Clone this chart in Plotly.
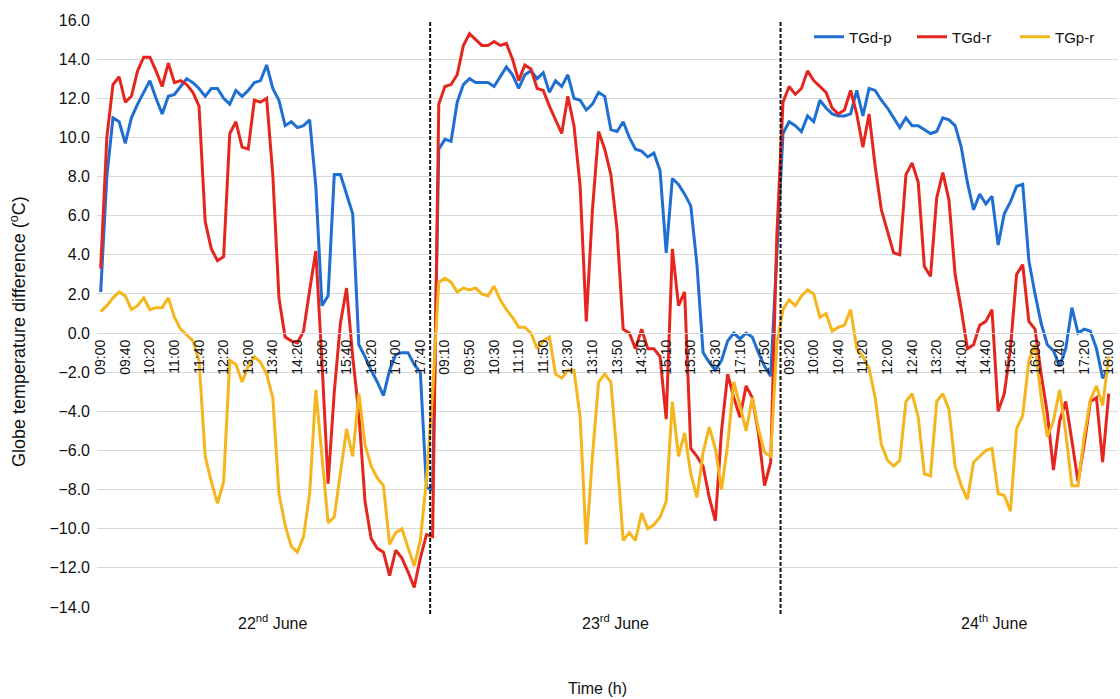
import plotly.graph_objects as go

# Measurement days and 10-minute sampling times (09:00 - 18:00)
DAYS = ["22<sup>nd</sup> June", "23<sup>rd</sup> June", "24<sup>th</sup> June"]
TIMES = [f"{9 + m // 60:02d}:{m % 60:02d}" for m in range(0, 541, 10)]
CATEGORIES = [(d, t) for d in DAYS for t in TIMES]

# Globe temperature differences (°C), one value per sample, day after day
TGD_P = [
    # 22nd June
    2.1, 8.0, 11.0, 10.8, 9.7, 11.0, 11.7, 12.3, 12.9, 12.0,
    11.2, 12.1, 12.2, 12.6, 13.0, 12.8, 12.5, 12.1, 12.5, 12.5,
    12.0, 11.7, 12.4, 12.1, 12.4, 12.8, 12.9, 13.7, 12.5, 11.9,
    10.6, 10.8, 10.5, 10.6, 10.9, 7.5, 1.4, 1.9, 8.1, 8.1,
    7.1, 6.1, -0.6, -1.2, -1.9, -2.5, -3.2, -1.9, -1.1, -1.0,
    -1.0, -1.6, -2.0, -7.9, -8.0,
    # 23rd June
    9.4, 9.9, 9.8, 11.8, 12.7, 13.0, 12.8, 12.8, 12.8, 12.6,
    13.1, 13.6, 13.2, 12.5, 13.2, 13.4, 13.0, 13.3, 12.3, 12.9,
    12.6, 13.2, 12.0, 11.9, 11.4, 11.7, 12.3, 12.1, 10.4, 10.3,
    10.8, 10.0, 9.4, 9.3, 9.0, 9.2, 8.3, 4.1, 7.9, 7.6,
    7.1, 6.5, 3.5, -1.0, -1.5, -1.9, -1.4, -0.4, 0.0, -0.3,
    0.0, -0.2, -1.0, -1.7, -2.2,
    # 24th June
    4.0, 10.2, 10.8, 10.6, 10.3, 11.1, 10.8, 11.9, 11.5, 11.2,
    11.1, 11.1, 11.2, 12.4, 11.1, 12.5, 12.4, 11.9, 11.5, 11.0,
    10.5, 11.0, 10.6, 10.6, 10.4, 10.2, 10.3, 11.0, 10.9, 10.6,
    9.5, 7.7, 6.3, 7.1, 6.6, 7.0, 4.5, 6.1, 6.7, 7.5,
    7.6, 3.7, 2.0, 0.5, -0.6, -0.9, -1.7, -0.8, 1.3, 0.0,
    0.2, 0.1, -0.8, -2.3, -1.9,
]

TGD_R = [
    # 22nd June
    3.3, 10.0, 12.7, 13.1, 11.8, 12.1, 13.4, 14.1, 14.1, 13.4,
    12.6, 13.8, 12.8, 12.9, 12.7, 12.3, 11.6, 5.7, 4.3, 3.7,
    3.9, 10.2, 10.8, 9.5, 9.4, 11.9, 11.8, 12.0, 8.1, 1.8,
    -0.2, -0.4, -0.5, 0.1, 2.2, 4.2, -1.5, -7.7, -3.0, 0.5,
    2.3, -1.2, -4.1, -8.6, -10.5, -11.0, -11.2, -12.4, -11.1, -11.5,
    -12.2, -13.0, -11.5, -10.3, -10.4,
    # 23rd June
    11.7, 12.6, 12.7, 13.2, 14.7, 15.3, 15.0, 14.7, 14.7, 14.9,
    14.7, 14.8, 14.0, 12.9, 13.7, 13.5, 12.5, 12.4, 11.6, 10.9,
    10.2, 12.1, 10.6, 7.5, 0.6, 6.3, 10.3, 9.4, 8.1, 5.3,
    0.2, 0.0, -0.8, 0.2, -0.8, -0.8, -1.2, -4.4, 4.3, 1.4,
    2.1, -5.9, -6.3, -6.8, -8.4, -9.6, -5.0, -2.1, -3.3, -4.3,
    -2.7, -3.3, -5.1, -7.8, -6.6,
    # 24th June
    5.0, 11.8, 12.6, 12.2, 12.5, 13.4, 12.9, 12.6, 12.3, 11.5,
    11.2, 11.4, 12.4, 11.2, 9.5, 11.2, 8.5, 6.3, 5.2, 4.1,
    4.0, 8.1, 8.7, 7.7, 3.4, 2.9, 6.9, 8.2, 6.8, 3.0,
    1.2, -0.8, -0.6, 0.4, 0.6, 1.2, -4.0, -3.1, -0.8, 3.0,
    3.5, 0.6, 0.2, -2.1, -4.1, -7.0, -4.5, -3.5, -5.5, -7.6,
    -5.7, -3.5, -3.3, -6.6, -3.1,
]

TGP_R = [
    # 22nd June
    1.1, 1.4, 1.8, 2.1, 1.9, 1.2, 1.4, 1.8, 1.2, 1.3,
    1.3, 1.8, 0.8, 0.2, -0.1, -0.4, -1.4, -6.3, -7.6, -8.7,
    -7.6, -1.4, -1.6, -2.5, -1.7, -1.2, -1.5, -2.1, -3.3, -8.2,
    -9.8, -10.9, -11.2, -10.4, -8.2, -2.9, -6.3, -9.7, -9.4, -7.2,
    -4.9, -6.3, -3.1, -5.7, -6.8, -7.4, -7.8, -10.8, -10.2, -10.0,
    -11.0, -11.9, -10.6, -7.5, -3.0,
    # 23rd June
    2.6, 2.8, 2.6, 2.1, 2.3, 2.2, 2.3, 2.0, 1.9, 2.4,
    1.7, 1.2, 0.8, 0.3, 0.3, 0.0, -0.8, -0.4, -0.2, -2.1,
    -2.3, -1.9, -1.9, -4.3, -10.8, -6.3, -2.5, -2.1, -2.5, -6.3,
    -10.6, -10.2, -10.6, -9.2, -10.0, -9.8, -9.4, -8.6, -3.5, -6.3,
    -5.1, -7.2, -8.4, -6.1, -4.8, -5.9, -8.0, -5.7, -2.5, -3.7,
    -5.0, -3.3, -4.9, -6.1, -6.3,
    # 24th June
    -0.5, 1.2, 1.7, 1.4, 1.9, 2.2, 2.0, 0.8, 1.0, 0.1,
    0.3, 0.4, 1.2, -0.8, -1.2, -1.8, -3.3, -5.7, -6.5, -6.8,
    -6.5, -3.5, -3.1, -4.3, -7.2, -7.3, -3.5, -3.1, -3.9, -6.8,
    -7.8, -8.5, -6.6, -6.3, -6.0, -5.9, -8.2, -8.3, -9.1, -4.9,
    -4.2, -1.4, -0.6, -3.3, -5.3, -4.5, -2.9, -5.1, -7.8, -7.8,
    -5.3, -3.4, -2.7, -3.7, -1.2,
]

SERIES = [
    ("TGd-p", TGD_P, "#1f6fd3"),
    ("TGd-r", TGD_R, "#e5261f"),
    ("TGp-r", TGP_R, "#f5b51c"),
]

FONT = "Arial, 'Liberation Sans', sans-serif"
Y_MIN, Y_MAX = -14, 16

x = list(range(len(CATEGORIES)))
tick_idx = x[::4]
tick_text = [CATEGORIES[i][1] for i in tick_idx]

fig = go.Figure()
for name, values, color in SERIES:
    fig.add_trace(go.Scatter(
        x=x, y=values, name=name, mode="lines",
        line=dict(color=color, width=3),
    ))

# Day separators
for xb in (53.6, 110.6):
    fig.add_shape(type="line", xref="x", yref="paper", x0=xb, x1=xb,
                  y0=-0.012, y1=1.0,
                  line=dict(color="#111111", width=2, dash="4px,2px"))

# Day names under the plot area
for day, xc in zip(DAYS, (28.0, 83.7, 145.3)):
    fig.add_annotation(text=day, x=xc, xref="x", y=-0.026, yref="paper",
                       showarrow=False, yanchor="middle",
                       font=dict(family=FONT, size=16, color="#111111"))

fig.add_annotation(text="Time (h)", x=0.49, xref="paper", y=-0.138, yref="paper",
                   showarrow=False, yanchor="middle",
                   font=dict(family=FONT, size=16, color="#111111"))

fig.add_annotation(text="Globe temperature difference (<sup>o</sup>C)",
                   x=-0.0774, xref="paper", y=0.47, yref="paper",
                   textangle=-90, showarrow=False,
                   xanchor="center", yanchor="middle",
                   font=dict(family=FONT, size=18, color="#111111"))

fig.update_layout(
    width=1120, height=699,
    margin=dict(l=97, r=2, t=20, b=92),
    paper_bgcolor="white", plot_bgcolor="white",
    font=dict(family=FONT, color="#111111"),
    showlegend=True,
    legend=dict(orientation="h", x=1.0, xanchor="right", y=0.971, yanchor="middle",
                bgcolor="rgba(255,255,255,0)", font=dict(family=FONT, size=15),
                entrywidth=58, entrywidthmode="pixels", tracegroupgap=0),
    xaxis=dict(range=[-0.6, 165.5], tickmode="array", tickvals=tick_idx,
               ticktext=tick_text, tickangle=-90, showgrid=False,
               zeroline=False, anchor="free",
               position=(0 - Y_MIN) / (Y_MAX - Y_MIN),
               showline=True, linecolor="#d9d9d9", linewidth=1, ticks="",
               tickfont=dict(family=FONT, size=14, color="#111111")),
    yaxis=dict(range=[Y_MIN, Y_MAX], dtick=2, tick0=0, tickformat=".1f",
               showgrid=True, gridcolor="#d9d9d9", gridwidth=1,
               zeroline=False, showline=False, ticks="",
               ticklabelstandoff=6,
               tickfont=dict(family=FONT, size=16, color="#111111")),
)

fig.write_html("out.html")
